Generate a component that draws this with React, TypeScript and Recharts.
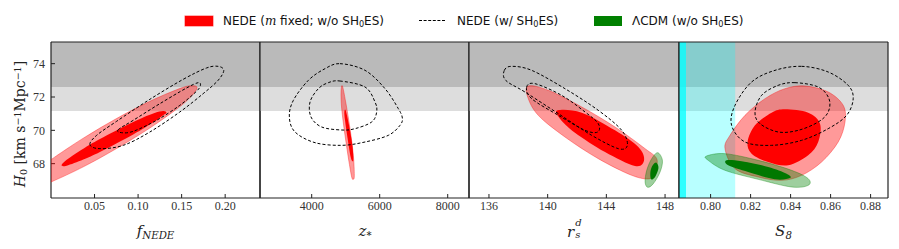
import React from "react";
import { ComposedChart, Scatter, XAxis, YAxis, ReferenceArea } from "recharts";

type Pair = [number, number];

// shared H0 axis
const H0_DOMAIN: Pair = [65.94, 75.3];
const H0_TICKS = [68, 70, 72, 74];
const SH0ES_2SIG: Pair = [71.16, 72.6];
const SH0ES_1SIG: Pair = [72.6, 75.3];

// f_NEDE panel
const fDomain: Pair = [0, 0.24];
const fTicks = [0.05, 0.1, 0.15, 0.2];
const fRed2: Pair[] = [[0.1678, 72.56], [0.1594, 72.67], [0.1441, 72.43], [0.1135, 71.74], [0.0753, 70.71], [0.0371, 69.53], [0, 68.24], [-0.0203, 67.41], [-0.0333, 66.58], [-0.0203, 66.52], [0, 66.9], [0.0371, 67.81], [0.0753, 68.91], [0.1135, 70.14], [0.1441, 71.27], [0.1594, 71.95]];
const fRed1: Pair[] = [[0.0122, 67.9], [0.018, 68.23], [0.0371, 68.9], [0.0562, 69.48], [0.0944, 70.5], [0.1174, 71.01], [0.1288, 71.16], [0.1326, 71.06], [0.1288, 70.91], [0.1174, 70.48], [0.0944, 69.75], [0.0562, 68.7], [0.0371, 68.25], [0.018, 67.88]];
const fSh2: Pair[] = [[0.0447, 69.14], [0.0524, 69.7], [0.0753, 70.54], [0.1135, 71.86], [0.1518, 73.06], [0.1785, 73.74], [0.1919, 73.84], [0.1984, 73.6], [0.1919, 73.0], [0.1747, 72.2], [0.1479, 71.1], [0.1135, 69.9], [0.083, 69.1], [0.0562, 68.9]];
const fSh1: Pair[] = [[0.0772, 70.04], [0.0944, 70.6], [0.125, 71.6], [0.1556, 72.54], [0.169, 72.86], [0.1716, 72.7], [0.167, 72.34], [0.1479, 71.5], [0.1212, 70.6], [0.0944, 69.94], [0.081, 69.86]];

// z_* panel
const zDomain: Pair = [2480, 8626];
const zTicks = [4000, 6000, 8000];
const zRed2: Pair[] = [[4902, 72.66], [5000, 71.7], [5127, 70.1], [5225, 68.5], [5254, 67.3], [5225, 67.06], [5176, 67.2], [5098, 68.1], [4980, 69.7], [4882, 71.3], [4862, 72.3]];
const zRed1: Pair[] = [[5000, 71.2], [5098, 70.3], [5196, 69.1], [5225, 68.3], [5205, 68.14], [5147, 68.4], [5058, 69.5], [4980, 70.6], [4960, 71.1]];
const zSh2: Pair[] = [[4833, 74], [5568, 73.6], [6156, 72.5], [6548, 71.3], [6666, 70.74], [6597, 70.3], [6254, 69.7], [5568, 69.3], [4882, 69.1], [4098, 69.26], [3510, 69.9], [3343, 70.8], [3461, 71.8], [3902, 73], [4392, 73.7]];
const zSh1: Pair[] = [[4833, 72.96], [5568, 72.6], [5862, 71.7], [5911, 71.1], [5764, 70.5], [5274, 70.1], [4882, 70.02], [4294, 70.2], [3980, 70.8], [3951, 71.7], [4196, 72.5], [4490, 72.86]];

// r_s^d panel
const rDomain: Pair = [134.64, 148.95];
const rTicks = [136, 140, 144, 148];
const rRed2: Pair[] = [[138.68, 72.66], [140.05, 72.4], [142.32, 71.4], [144.59, 70.2], [146.64, 68.9], [147.43, 68.3], [147.32, 67.6], [146.98, 67.1], [145.73, 67.3], [143.45, 68.3], [141.18, 69.6], [139.36, 70.9], [138.64, 72.0]];
const rRed1: Pair[] = [[140.68, 71.2], [142.32, 71.06], [144.59, 70.0], [146.18, 69.0], [146.57, 68.2], [145.95, 67.86], [143.91, 68.7], [141.86, 69.86], [140.84, 70.7]];
const rSh2: Pair[] = [[137.05, 73.6], [137.55, 73.84], [138.91, 73.6], [141.18, 72.5], [143.45, 71.2], [145.05, 70.0], [145.43, 69.1], [144.82, 68.9], [143.0, 69.7], [140.73, 71.0], [138.45, 72.3], [137.14, 73.0]];
const rSh1: Pair[] = [[138.57, 72.6], [139.14, 72.8], [140.95, 72.1], [142.55, 71.1], [143.45, 70.4], [143.41, 69.9], [142.55, 70.0], [140.73, 70.9], [138.91, 71.9]];
const rGreen2: Pair[] = [[147.5, 68.66], [147.82, 68.2], [147.66, 67.5], [147.2, 66.8], [146.82, 66.58], [146.64, 66.9], [146.75, 67.6], [147.09, 68.3]];
const rGreen1: Pair[] = [[147.41, 68.06], [147.55, 67.74], [147.32, 67.2], [147.05, 67.06], [147.0, 67.5], [147.16, 67.9]];

// S_8 panel
const sDomain: Pair = [0.7842, 0.8887];
const sTicks = [0.8, 0.82, 0.84, 0.86, 0.88];
const S8_2SIG: Pair = [0.7842, 0.8123];
const S8_1SIG: Pair = [0.7842, 0.7877];
const sRed2: Pair[] = [[0.8472, 72.66], [0.8588, 72.3], [0.8663, 71.5], [0.8672, 70.5], [0.8638, 69.3], [0.8555, 68.1], [0.8455, 67.3], [0.8355, 67.0], [0.8238, 67.2], [0.8122, 67.7], [0.8072, 68.9], [0.8097, 69.7], [0.8172, 70.9], [0.8272, 71.9], [0.8372, 72.5]];
const sRed1: Pair[] = [[0.8372, 71.26], [0.8488, 71.06], [0.8547, 70.4], [0.8538, 69.3], [0.8488, 68.5], [0.8388, 67.9], [0.8288, 68.1], [0.8205, 68.6], [0.8185, 69.3], [0.8222, 70.3], [0.8305, 71.06]];
const sSh2: Pair[] = [[0.8455, 73.84], [0.8588, 73.5], [0.8688, 72.7], [0.8713, 71.9], [0.868, 70.9], [0.8588, 70.1], [0.8455, 69.4], [0.8305, 69.1], [0.8172, 69.3], [0.8105, 70.3], [0.8122, 71.5], [0.8205, 72.9], [0.8322, 73.6]];
const sSh1: Pair[] = [[0.8422, 72.86], [0.8538, 72.6], [0.8592, 71.9], [0.8588, 71.1], [0.8538, 70.5], [0.8438, 70.0], [0.8338, 69.9], [0.8247, 70.4], [0.8222, 71.1], [0.8255, 72.1], [0.8338, 72.7]];
const sGreen2: Pair[] = [[0.798, 68.46], [0.8072, 68.6], [0.8238, 68.2], [0.8405, 67.6], [0.8488, 67.1], [0.8488, 66.7], [0.8405, 66.6], [0.8238, 67.06], [0.8072, 67.6], [0.7988, 68.2]];
const sGreen1: Pair[] = [[0.808, 68.2], [0.8155, 68.14], [0.8288, 67.8], [0.838, 67.4], [0.8397, 67.14], [0.8322, 67.06], [0.8188, 67.5], [0.8088, 67.9]];

const SERIF = "'Liberation Serif', 'DejaVu Serif', serif";
const MATH = "'DejaVu Serif', serif";
const SANS = "'DejaVu Sans', sans-serif";
const INK = "#222";

const styles = {
  red2: { fill: "#ff0000", fillOpacity: 0.4, stroke: "#ff0000", strokeOpacity: 0.45, strokeWidth: 0.8 },
  red1: { fill: "#ff0000", stroke: "none" },
  green2: { fill: "#008000", fillOpacity: 0.38, stroke: "#008000", strokeOpacity: 0.45, strokeWidth: 0.8 },
  green1: { fill: "#007800", stroke: "none" },
  dashed: { fill: "none", stroke: "#000", strokeWidth: 1, strokeDasharray: "3 2" },
};

// closed catmull-rom through the projected outline points
function smoothClosed(pts: { x: number; y: number }[]) {
  if (!pts || pts.length < 3) return "";
  const n = pts.length;
  let d = `M${pts[0].x},${pts[0].y}`;
  for (let i = 0; i < n; i++) {
    const p0 = pts[(i - 1 + n) % n];
    const p1 = pts[i];
    const p2 = pts[(i + 1) % n];
    const p3 = pts[(i + 2) % n];
    const c1x = p1.x + (p2.x - p0.x) / 6;
    const c1y = p1.y + (p2.y - p0.y) / 6;
    const c2x = p2.x - (p3.x - p1.x) / 6;
    const c2y = p2.y - (p3.y - p1.y) / 6;
    d += ` C${c1x},${c1y} ${c2x},${c2y} ${p2.x},${p2.y}`;
  }
  return d + " Z";
}

const noDot = () => <g />;

function contour(key: string, pts: Pair[] | undefined, style: Record<string, unknown>) {
  if (!pts) return null;
  return (
    <Scatter
      key={key}
      xAxisId="b"
      yAxisId="l"
      data={pts.map(([x, y]) => ({ x, y }))}
      isAnimationActive={false}
      shape={noDot}
      line={(p: any) => <path d={smoothClosed(p.points)} {...style} />}
    />
  );
}

interface PanelCfg {
  left: number;
  width: number;
  showY: boolean;
  domain: Pair;
  ticks: number[];
  fmt: (v: number) => string;
  red2: Pair[];
  red1: Pair[];
  sh2: Pair[];
  sh1: Pair[];
  green2?: Pair[];
  green1?: Pair[];
  s8Bands?: boolean;
}

const panels: PanelCfg[] = [
  { left: 51, width: 209, showY: true, domain: fDomain, ticks: fTicks, fmt: (v) => v.toFixed(2), red2: fRed2, red1: fRed1, sh2: fSh2, sh1: fSh1 },
  { left: 260, width: 209, showY: false, domain: zDomain, ticks: zTicks, fmt: (v) => String(v), red2: zRed2, red1: zRed1, sh2: zSh2, sh1: zSh1 },
  { left: 469, width: 210, showY: false, domain: rDomain, ticks: rTicks, fmt: (v) => String(v), red2: rRed2, red1: rRed1, sh2: rSh2, sh1: rSh1, green2: rGreen2, green1: rGreen1 },
  { left: 679, width: 209, showY: false, domain: sDomain, ticks: sTicks, fmt: (v) => v.toFixed(2), red2: sRed2, red1: sRed1, sh2: sSh2, sh1: sSh1, green2: sGreen2, green1: sGreen1, s8Bands: true },
];

const axisLine = { stroke: INK, strokeWidth: 1.2 };
const tickLine = { stroke: INK, strokeWidth: 1 };
const tickText = { fontSize: 12, fontFamily: SERIF, fill: "#333" };

function Panel({ cfg }: { cfg: PanelCfg }) {
  const yw = cfg.showY ? 40 : 4;
  return (
    <div style={{ position: "absolute", left: cfg.left - yw, top: 0 }}>
      <ComposedChart width={yw + cfg.width + 4} height={249} margin={{ top: 37, right: 0, bottom: 21, left: 0 }}>
        <XAxis xAxisId="b" type="number" dataKey="x" domain={cfg.domain} allowDataOverflow ticks={cfg.ticks} interval={0}
          tickFormatter={cfg.fmt} tickSize={-4} tickMargin={7} height={30} axisLine={axisLine} tickLine={tickLine} tick={tickText} />
        <XAxis xAxisId="t" orientation="top" type="number" domain={cfg.domain} allowDataOverflow ticks={cfg.ticks} interval={0}
          tickSize={-4} height={5} tick={false} axisLine={axisLine} tickLine={tickLine} />
        <YAxis yAxisId="l" type="number" dataKey="y" domain={H0_DOMAIN} allowDataOverflow ticks={H0_TICKS} interval={0}
          width={yw} tickSize={-4} tickMargin={10} axisLine={axisLine} tickLine={tickLine} tick={cfg.showY ? tickText : false} />
        <YAxis yAxisId="r" orientation="right" type="number" domain={H0_DOMAIN} allowDataOverflow ticks={H0_TICKS} interval={0}
          width={4} tickSize={-4} axisLine={axisLine} tickLine={tickLine} tick={false} />
        <ReferenceArea xAxisId="b" yAxisId="l" y1={SH0ES_2SIG[0]} y2={SH0ES_2SIG[1]} fill="#dddddd" fillOpacity={1} stroke="none" />
        <ReferenceArea xAxisId="b" yAxisId="l" y1={SH0ES_1SIG[0]} y2={SH0ES_1SIG[1]} fill="#bababa" fillOpacity={1} stroke="none" />
        {cfg.s8Bands ? (
          <ReferenceArea xAxisId="b" yAxisId="l" x1={S8_2SIG[0]} x2={S8_2SIG[1]} fill="#00ffff" fillOpacity={0.28} stroke="none" />
        ) : null}
        {cfg.s8Bands ? (
          <ReferenceArea xAxisId="b" yAxisId="l" x1={S8_1SIG[0]} x2={S8_1SIG[1]} fill="#00ffff" fillOpacity={0.75} stroke="none" />
        ) : null}
        {contour("red2", cfg.red2, styles.red2)}
        {contour("red1", cfg.red1, styles.red1)}
        {contour("green2", cfg.green2, styles.green2)}
        {contour("green1", cfg.green1, styles.green1)}
        {contour("sh2", cfg.sh2, styles.dashed)}
        {contour("sh1", cfg.sh1, styles.dashed)}
      </ComposedChart>
    </div>
  );
}

const sub: React.CSSProperties = { fontSize: "0.68em", verticalAlign: "-0.25em", lineHeight: 0 };
const sup: React.CSSProperties = { fontSize: "0.68em", verticalAlign: "0.45em", lineHeight: 0 };

function Centered({ x, y, children, rotate }: { x: number; y: number; children: React.ReactNode; rotate?: boolean }) {
  return (
    <div style={{ position: "absolute", left: x, top: y, width: 0, height: 0 }}>
      <div style={{
        position: "absolute", left: 0, top: 0, whiteSpace: "nowrap", color: INK,
        transform: `translate(-50%, -50%)${rotate ? " rotate(-90deg)" : ""}`,
      }}>
        {children}
      </div>
    </div>
  );
}

const legendText: React.CSSProperties = { position: "absolute", top: 12.5, fontFamily: SANS, fontSize: 12, lineHeight: "16px", color: "#111", whiteSpace: "nowrap" };
const mathLabel: React.CSSProperties = { fontFamily: MATH, fontSize: 15, fontStyle: "italic" };

export default function App() {
  return (
    <div style={{ position: "absolute", left: 0, top: 0, width: 899, height: 249, background: "#fff", overflow: "hidden" }}>
      {panels.map((p, i) => <Panel key={i} cfg={p} />)}

      {/* legend */}
      <div style={{ position: "absolute", left: 185, top: 16, width: 28, height: 10, background: "#ff0000", boxShadow: "0 0 0 0.5px #ff6666" }} />
      <span style={{ ...legendText, left: 223 }}>
        NEDE (<i style={{ fontFamily: MATH }}>m</i> fixed; w/o SH<sub style={sub}>0</sub>ES)
      </span>
      <div style={{ position: "absolute", left: 419, top: 20, width: 26, height: 0, borderTop: "1px dashed #000" }} />
      <span style={{ ...legendText, left: 457 }}>
        NEDE (w/ SH<sub style={sub}>0</sub>ES)
      </span>
      <div style={{ position: "absolute", left: 594, top: 16, width: 28, height: 10, background: "#008000" }} />
      <span style={{ ...legendText, left: 632 }}>
        ΛCDM (w/o SH<sub style={sub}>0</sub>ES)
      </span>

      {/* axis titles */}
      <Centered x={20} y={124} rotate>
        <span style={{ fontFamily: MATH, fontSize: 14 }}>
          <i>H</i><sub style={sub}>0</sub> [km s<sup style={sup}>−1</sup>Mpc<sup style={sup}>−1</sup>]
        </span>
      </Centered>
      <Centered x={155.5} y={231}>
        <span style={mathLabel}>
          f<sub style={sub}>NEDE</sub>
        </span>
      </Centered>
      <Centered x={365} y={231}>
        <span style={mathLabel}>
          z<sub style={sub}>*</sub>
        </span>
      </Centered>
      <Centered x={574} y={231}>
        <span style={mathLabel}>
          r<span style={{ position: "relative", display: "inline-block", width: "0.45em", height: "1em" }}>
            <span style={{ position: "absolute", left: 1, top: -5, fontSize: 10 }}>d</span>
            <span style={{ position: "absolute", left: 1, top: 7, fontSize: 10 }}>s</span>
          </span>
        </span>
      </Centered>
      <Centered x={783.5} y={231}>
        <span style={mathLabel}>
          S<sub style={sub}>8</sub>
        </span>
      </Centered>
    </div>
  );
}
